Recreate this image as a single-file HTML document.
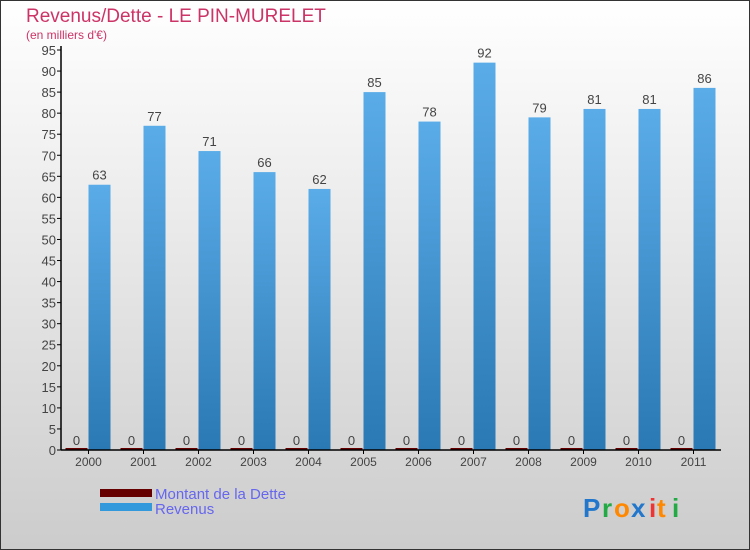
<!DOCTYPE html>
<html><head><meta charset="utf-8"><style>
body{margin:0}
#c{width:750px;height:550px;position:relative;overflow:hidden;font-family:"Liberation Sans",sans-serif}
</style></head><body>
<div id="c">
<svg id="s" width="750" height="550" xmlns="http://www.w3.org/2000/svg">
<defs>
<linearGradient id="bg" x1="0" y1="0" x2="0" y2="1"><stop offset="0" stop-color="#ffffff"/><stop offset="1" stop-color="#cccccc"/></linearGradient>
<linearGradient id="bar" x1="0" y1="0" x2="0" y2="1"><stop offset="0" stop-color="#5aace8"/><stop offset="1" stop-color="#2a78b4"/></linearGradient>
</defs>
<rect x="0.5" y="0.5" width="749" height="549" fill="url(#bg)" stroke="#333"/>
<text x="26" y="22" font-size="19" fill="#cc3366">Revenus/Dette - LE PIN-MURELET</text>
<text x="26" y="39" font-size="12" fill="#cc3366">(en milliers d'€)</text>
<g id="g"></g>
<rect x="100" y="489" width="52" height="8" fill="#660000"/>
<rect x="100" y="503" width="52" height="8" fill="#3399dd"/>
<text x="155" y="499" font-size="15" fill="#6666ee">Montant de la Dette</text>
<text x="155" y="514" font-size="15" fill="#6666ee">Revenus</text>
<g font-size="26" font-family="Liberation Sans,sans-serif" font-weight="bold">
<text x="583" y="517" fill="#2277cc">P</text><text x="602" y="517" fill="#22aa44">r</text><text x="614" y="517" fill="#ff8800">o</text><text x="631" y="517" fill="#2277cc">x</text><text x="649" y="517" fill="#ee3333">i</text><text x="657" y="517" fill="#ff8800">t</text><text x="672" y="517" fill="#22aa44">i</text>
</g>
</svg>
</div>
<script>
const years=["2000","2001","2002","2003","2004","2005","2006","2007","2008","2009","2010","2011"];
const revenus=[63,77,71,66,62,85,78,92,79,81,81,86];
const dette=[0,0,0,0,0,0,0,0,0,0,0,0];
const yTicks=[0,5,10,15,20,25,30,35,40,45,50,55,60,65,70,75,80,85,90,95];
const NS="http://www.w3.org/2000/svg";
const g=document.getElementById("g");
const x0=61,x1=721,y0=450,yTop=50,yMax=95,gw=(x1-x0)/years.length;
const y=v=>y0-(v/yMax)*(y0-yTop);
function mk(t,a,txt){const e=document.createElementNS(NS,t);for(const k in a)e.setAttribute(k,a[k]);if(txt!==undefined)e.textContent=txt;g.appendChild(e);return e;}
yTicks.forEach(v=>{
 const l=mk("line",{x1:x0-4,x2:x0,y1:y(v),y2:y(v),stroke:"#000"});
 
 
 const t=mk("text",{x:x0-5,y:y(v)+5,"font-size":13,fill:"#444","text-anchor":"end"},v);
 
 
});
years.forEach((yr,i)=>{
 const cx=x0+gw*i+gw/2;
 const d=mk("rect",{x:cx-23,y:y(dette[i])-2,width:22,height:Math.max(2,y0-y(dette[i])),fill:"#660000"});
 
 
 const dl=mk("text",{x:cx-12,y:y(dette[i])-5,"font-size":13,fill:"#444","text-anchor":"middle"},dette[i]);
 
 
 const r=mk("rect",{x:cx,y:y(revenus[i]),width:22,height:y0-y(revenus[i]),fill:"url(#bar)"});
 
 
 const rl=mk("text",{x:cx+11,y:y(revenus[i])-5,"font-size":13,fill:"#444","text-anchor":"middle"},revenus[i]);
 
 
 const tk=mk("line",{x1:cx,x2:cx,y1:y0,y2:y0+4,stroke:"#000"});
 
 
 const xl=mk("text",{x:cx,y:y0+16,"font-size":12,fill:"#444","text-anchor":"middle"},yr);
 
 
});
const ya=mk("line",{x1:x0,x2:x0,y1:yTop-4,y2:y0,stroke:"#000","stroke-width":1.5});


const xa=mk("line",{x1:x0,x2:x1,y1:y0,y2:y0,stroke:"#000","stroke-width":1.5});


</script>
</body></html>
